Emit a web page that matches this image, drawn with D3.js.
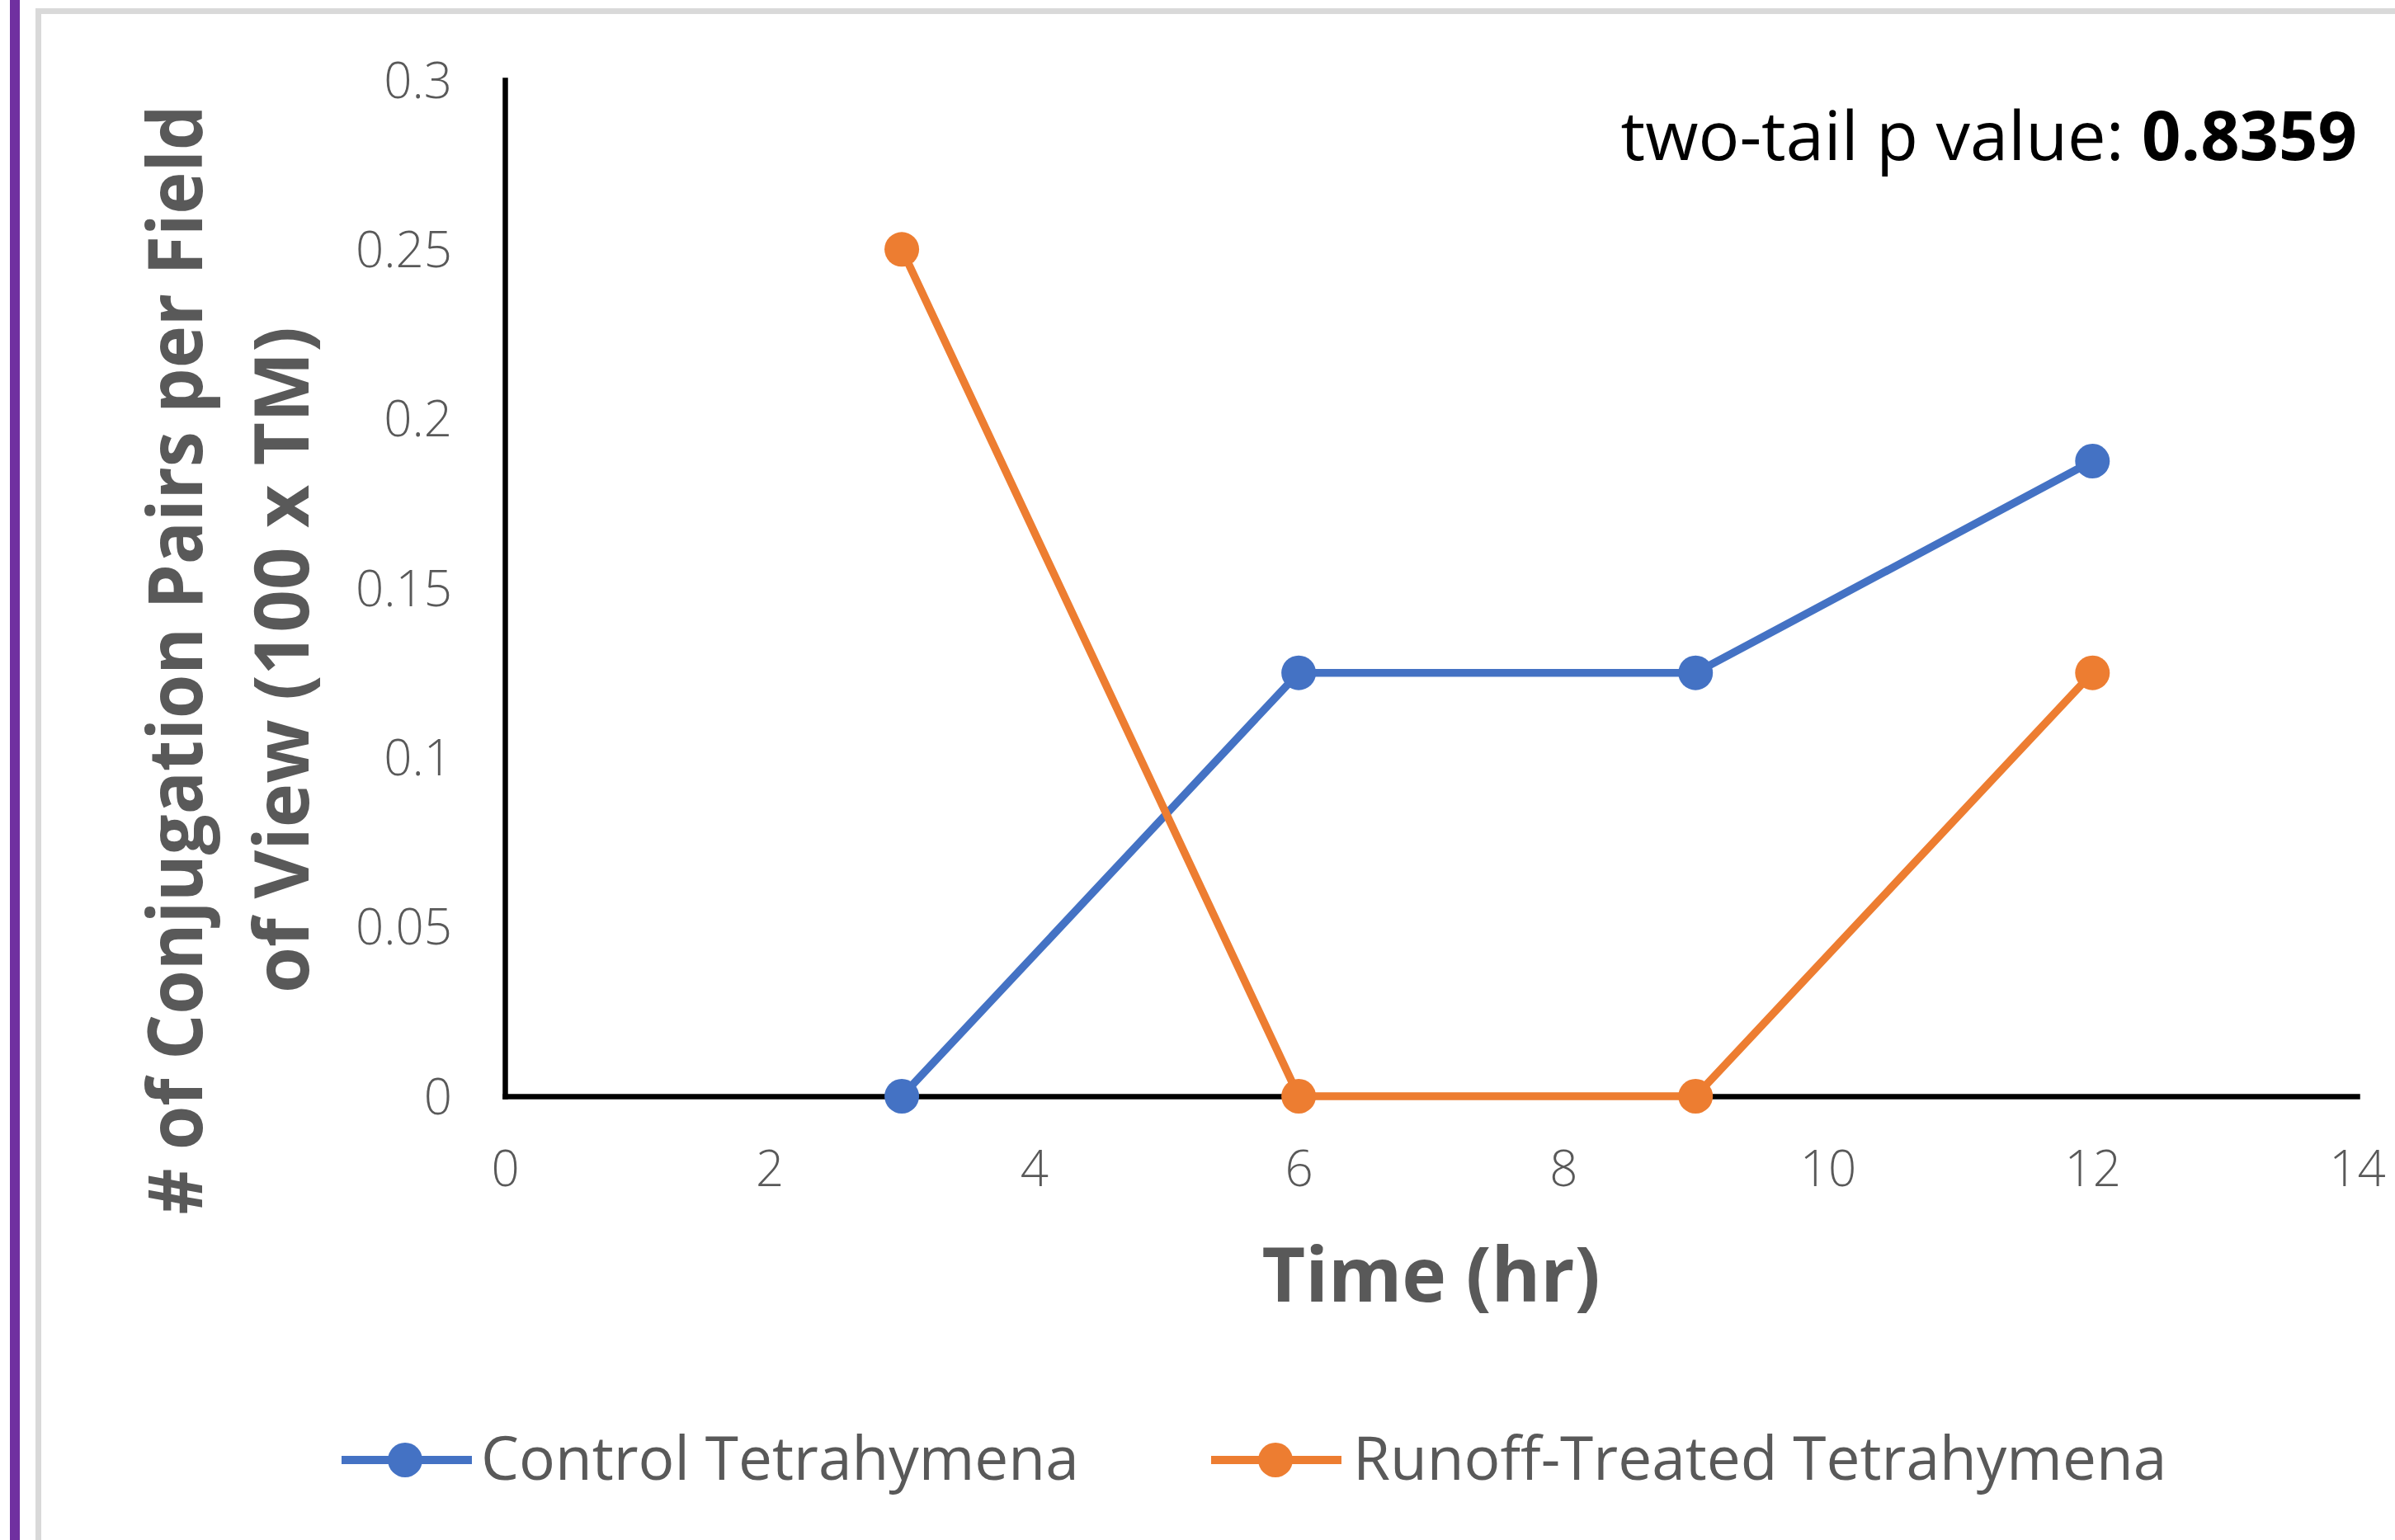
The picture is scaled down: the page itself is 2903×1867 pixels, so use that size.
<!DOCTYPE html>
<html>
<head>
<meta charset="utf-8">
<script src="https://cdn.jsdelivr.net/npm/d3@7"></script>
<style>
  html, body { margin: 0; padding: 0; background: #fff; }
  svg { display: block; }
  text { font-family: "Open Sans", "Noto Sans", sans-serif; }
</style>
</head>
<body>
<svg id="chart" width="2903" height="1867"></svg>
<script>
// ---- data ----
const timesHr = [3, 6, 9, 12];
const controlValues = [0, 0.125, 0.125, 0.1875];
const runoffValues = [0.25, 0, 0, 0.125];
const seriesNames = ["Control Tetrahymena", "Runoff-Treated Tetrahymena"];
const xTickValues = [0, 2, 4, 6, 8, 10, 12, 14];
const xTickLabels = ["0", "2", "4", "6", "8", "10", "12", "14"];
const yTickValues = [0, 0.05, 0.1, 0.15, 0.2, 0.25, 0.3];
const yTickLabels = ["0", "0.05", "0.1", "0.15", "0.2", "0.25", "0.3"];
const yTitleLines = ["# of Conjugation Pairs per Field", "of View (100 x TM)"];
const xTitle = "Time (hr)";
const pLabel = "two-tail p value: ";
const pValue = "0.8359";

// ---- layout ----
const W = 2903, H = 1867;
const plotLeft = 612, plotRight = 2857, plotTop = 97, plotBottom = 1329;
const colors = ["#4472c4", "#ed7d31"];
const textGrey = "#595959";

const svg = d3.select("#chart");

// outer decorations
svg.append("rect").attr("x", 0).attr("y", 0).attr("width", W).attr("height", H).attr("fill", "#fff");
svg.append("rect").attr("x", 12).attr("y", 0).attr("width", 12).attr("height", H).attr("fill", "#7030a0");
svg.append("rect").attr("x", 46.5).attr("y", 13.5).attr("width", W + 100).attr("height", H + 100)
  .attr("fill", "none").attr("stroke", "#d9d9d9").attr("stroke-width", 7);

const x = d3.scaleLinear().domain([0, 14]).range([plotLeft, plotRight]);
const y = d3.scaleLinear().domain([0, 0.3]).range([plotBottom, plotTop]);

// axes
const xAxis = d3.axisBottom(x).tickValues(xTickValues)
  .tickFormat((d, i) => xTickLabels[i]).tickSizeInner(0).tickSizeOuter(0);
const yAxis = d3.axisLeft(y).tickValues(yTickValues)
  .tickFormat((d, i) => yTickLabels[i]).tickSizeInner(0).tickSizeOuter(0);

const gy = svg.append("g").attr("transform", `translate(${plotLeft},0)`).call(yAxis);
const gx = svg.append("g").attr("transform", `translate(0,${plotBottom})`).call(xAxis);

[gx, gy].forEach(g => {
  g.attr("font-family", null).attr("font-size", null);
  g.select(".domain").attr("stroke", "#000").attr("stroke-width", 6.5).attr("stroke-linecap", "square");
  g.selectAll("text").attr("fill", textGrey).style("font-size", "60px").style("font-weight", 300);
});
gx.selectAll(".tick text").attr("y", 109).attr("dy", null);
gy.selectAll(".tick text").attr("x", -64).attr("dy", "0.35em");

// series
const series = [controlValues, runoffValues];
const line = d3.line().x(d => x(d[0])).y(d => y(d[1]));
series.forEach((vals, si) => {
  const pts = timesHr.map((t, i) => [t, vals[i]]);
  svg.append("path").datum(pts).attr("d", line).attr("fill", "none")
    .attr("stroke", colors[si]).attr("stroke-width", 9.5).attr("stroke-linejoin", "round");
});
series.forEach((vals, si) => {
  const pts = timesHr.map((t, i) => [t, vals[i]]);
  svg.append("g").selectAll("circle").data(pts).join("circle")
    .attr("cx", d => x(d[0])).attr("cy", d => y(d[1])).attr("r", 21).attr("fill", colors[si]);
});

// axis titles
svg.append("text").attr("x", (plotLeft + plotRight) / 2).attr("y", 1578).attr("text-anchor", "middle")
  .attr("fill", textGrey).style("font-size", "91px").style("font-weight", 700).text(xTitle);

const yT1 = svg.append("text").attr("transform", "translate(245,800) rotate(-90)")
  .attr("text-anchor", "middle").attr("fill", textGrey)
  .style("font-size", "91px").style("font-weight", 700).text(yTitleLines[0]);
const yT2 = svg.append("text").attr("transform", "translate(374,800) rotate(-90)")
  .attr("text-anchor", "middle").attr("fill", textGrey)
  .style("font-size", "91px").style("font-weight", 700).text(yTitleLines[1]);
yT1.attr("textLength", 1345).attr("lengthAdjust", "spacingAndGlyphs");
yT2.attr("textLength", 808).attr("lengthAdjust", "spacingAndGlyphs");

// p value annotation
const ann = svg.append("text").attr("x", plotRight).attr("y", 194).attr("text-anchor", "end")
  .attr("fill", "#000").style("font-size", "83px");
ann.append("tspan").style("font-weight", 400).text(pLabel);
ann.append("tspan").style("font-weight", 700).text(pValue);

// legend
const legendItems = [
  { x1: 414, x2: 572, mx: 491, tx: 583 },
  { x1: 1468, x2: 1626, mx: 1546, tx: 1640 }
];
legendItems.forEach((it, i) => {
  const g = svg.append("g");
  g.append("line").attr("x1", it.x1).attr("x2", it.x2).attr("y1", 1770).attr("y2", 1770)
    .attr("stroke", colors[i]).attr("stroke-width", 10);
  g.append("circle").attr("cx", it.mx).attr("cy", 1770).attr("r", 21).attr("fill", colors[i]);
  g.append("text").attr("x", it.tx).attr("y", 1794).attr("fill", textGrey)
    .style("font-size", "73px").style("font-weight", 400).text(seriesNames[i]);
});
</script>
</body>
</html>
